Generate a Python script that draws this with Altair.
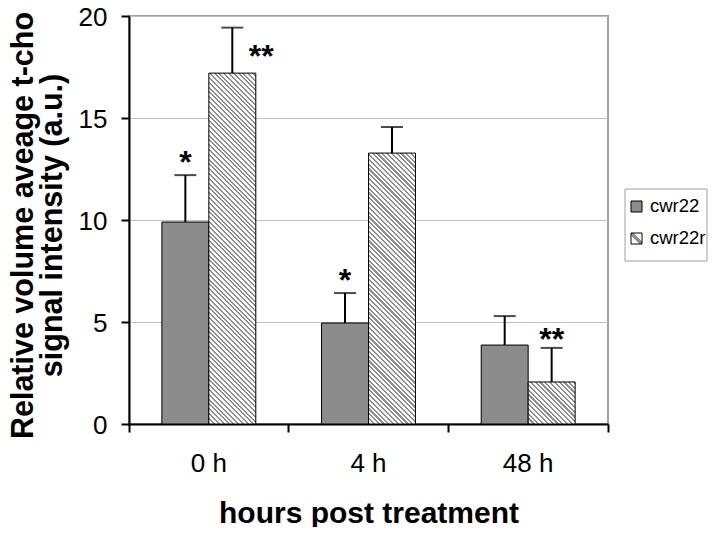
import altair as alt
import pandas as pd

# ---------------- data ----------------
hours = ["0 h", "4 h", "48 h"]
series = ["cwr22", "cwr22r"]
cwr22_vals = [9.9, 4.95, 3.87]
cwr22_err = [2.3, 1.47, 1.42]
cwr22r_vals = [17.2, 13.28, 2.06]
cwr22r_err = [2.23, 1.28, 1.67]

ann_hours = ["0 h", "0 h", "4 h", "48 h"]
ann_series = ["cwr22", "cwr22r", "cwr22", "cwr22r"]
ann_labels = ["*", "**", "*", "**"]
ann_y = [13.2, 18.4, 7.4, 4.5]

y_ticks = [0, 5, 10, 15, 20]
y_title = ["Relative volume aveage t-cho", "signal intensity (a.u.)"]
x_title = "hours post treatment"

# ---------------- layout / style ----------------
FONT = "Liberation Sans"
W, H = 479, 408
YMAX = 20
GRAY = "#8c8c8c"
HATCH = "#909090"
OFF_PAD = 0.7
BAR_W = (W / 3) / (2 + 2 * OFF_PAD)

rows = []
for i, h in enumerate(hours):
    rows.append(dict(hour=h, series="cwr22", value=cwr22_vals[i], top=cwr22_vals[i] + cwr22_err[i]))
    rows.append(dict(hour=h, series="cwr22r", value=cwr22r_vals[i], top=cwr22r_vals[i] + cwr22r_err[i]))
df = pd.DataFrame(rows)

ann = pd.DataFrame(dict(hour=ann_hours, series=ann_series, label=ann_labels, y=ann_y))
leg = pd.DataFrame(dict(series=series))


def hatch_gradient(w_px, h_px, period=4.8, frac=0.45):
    """Diagonal '\\' stripes expressed as a linear gradient in bbox units."""
    n = (w_px + h_px) / period
    s = (w_px + h_px) / (w_px ** 2 + h_px ** 2)
    x2 = s * w_px
    y2 = 1 - s * h_px
    stops = []
    k = 0
    while k < n:
        a = k / n
        b = min((k + frac) / n, 1.0)
        c = min((k + 1) / n, 1.0)
        stops += [
            {"offset": a, "color": HATCH},
            {"offset": b, "color": HATCH},
            {"offset": b, "color": "white"},
            {"offset": c, "color": "white"},
        ]
        k += 1
    return {"gradient": "linear", "x1": 0, "y1": 1, "x2": x2, "y2": y2, "stops": stops}


x_scale = alt.Scale(domain=hours, paddingInner=0, paddingOuter=0)
off_scale = alt.Scale(domain=series, paddingInner=0, paddingOuter=OFF_PAD)
y_scale = alt.Scale(domain=[0, YMAX], nice=False, zero=True)

x_axis = alt.Axis(
    title=x_title, titleFont=FONT, titleFontSize=30, titleFontWeight="bold", titleColor="black",
    titleY=98, titleBaseline="alphabetic",
    labelAngle=0, labelFont=FONT, labelFontSize=26, labelColor="black", labelPadding=18,
    tickSize=8, tickWidth=2, tickColor="black", domainColor="black", domainWidth=2,
    bandPosition=1, tickExtra=True, grid=False,
)
y_axis = alt.Axis(
    values=y_ticks, title=y_title, titleFont=FONT, titleFontSize=30.5, titleFontWeight="bold",
    titleColor="black", titleX=-97, titleY=209, titleBaseline="alphabetic", titleLineHeight=29,
    labelFont=FONT, labelFontSize=26, labelColor="black", labelPadding=14, labelOffset=1.5,
    tickSize=8, tickWidth=2, tickColor="black", domainColor="black", domainWidth=2,
    grid=True, gridColor="#c0c0c0", gridWidth=1,
)


def X():
    return alt.X("hour:N", sort=hours, scale=x_scale, axis=x_axis)


def XO():
    return alt.XOffset("series:N", scale=off_scale)


def Y(field):
    return alt.Y(field, scale=y_scale, axis=y_axis)


base = alt.Chart(df)

gray_bars = base.transform_filter(alt.datum.series == "cwr22").mark_bar(
    fill=GRAY, stroke="black", strokeWidth=1
).encode(x=X(), xOffset=XO(), y=Y("value:Q"))

hatch_layers = []
for i, h in enumerate(hours):
    h_px = cwr22r_vals[i] * H / YMAX
    hatch_layers.append(
        base.transform_filter((alt.datum.series == "cwr22r") & (alt.datum.hour == h)).mark_bar(
            fill=hatch_gradient(BAR_W, h_px), stroke="black", strokeWidth=1
        ).encode(x=X(), xOffset=XO(), y=Y("value:Q"))
    )

err_rule = base.mark_rule(color="black", strokeWidth=2).encode(
    x=X(), xOffset=XO(), y=Y("value:Q"), y2="top:Q"
)
err_cap = base.mark_tick(color="black", thickness=2, size=22).encode(
    x=X(), xOffset=XO(), y=Y("top:Q")
)

ann_base = alt.Chart(ann)
ann_main = ann_base.transform_filter(
    ~((alt.datum.hour == "0 h") & (alt.datum.series == "cwr22r"))
).mark_text(font=FONT, fontSize=32, fontWeight="bold", baseline="alphabetic", dy=18, color="black").encode(
    x=X(), xOffset=XO(), y=Y("y:Q"), text="label:N"
)
ann_side = ann_base.transform_filter(
    (alt.datum.hour == "0 h") & (alt.datum.series == "cwr22r")
).mark_text(font=FONT, fontSize=32, fontWeight="bold", baseline="alphabetic", dy=18, dx=29, color="black").encode(
    x=X(), xOffset=XO(), y=Y("y:Q"), text="label:N"
)

# ---------------- legend (drawn manually for the hatched swatch) ----------------
leg_base = alt.Chart(leg)
leg_box = leg_base.transform_filter(alt.datum.series == "cwr22").mark_rect(
    fill="white", stroke="#a0a0a0", strokeWidth=1
).encode(x=alt.value(496), x2=alt.value(578), y=alt.value(173), y2=alt.value(245))
leg_sym1 = leg_base.transform_filter(alt.datum.series == "cwr22").mark_rect(
    fill=GRAY, stroke="black", strokeWidth=1
).encode(x=alt.value(502), x2=alt.value(513), y=alt.value(185), y2=alt.value(196))
leg_sym2 = leg_base.transform_filter(alt.datum.series == "cwr22r").mark_rect(
    fill={"gradient": "linear", "x1": 0, "y1": 1, "x2": 1, "y2": 0,
          "stops": [{"offset": 0, "color": "white"}, {"offset": 0.4, "color": "white"},
                    {"offset": 0.4, "color": HATCH}, {"offset": 0.6, "color": HATCH},
                    {"offset": 0.6, "color": "white"}, {"offset": 1, "color": "white"}]},
    stroke="black", strokeWidth=1
).encode(x=alt.value(502), x2=alt.value(513), y=alt.value(217), y2=alt.value(228))
leg_txt1 = leg_base.transform_filter(alt.datum.series == "cwr22").mark_text(
    font=FONT, fontSize=18.5, align="left", baseline="alphabetic", color="black"
).encode(x=alt.value(521), y=alt.value(196), text="series:N")
leg_txt2 = leg_base.transform_filter(alt.datum.series == "cwr22r").mark_text(
    font=FONT, fontSize=18.5, align="left", baseline="alphabetic", color="black"
).encode(x=alt.value(521), y=alt.value(228), text="series:N")

chart = alt.layer(
    gray_bars, *hatch_layers, err_rule, err_cap, ann_main, ann_side,
    leg_box, leg_sym1, leg_sym2, leg_txt1, leg_txt2,
).properties(
    width=W, height=H,
    autosize=alt.AutoSizeParams(type="none"),
    padding={"left": 121, "top": 8, "right": 100, "bottom": 103},
).configure_view(stroke="#a0a0a0", strokeWidth=2)

chart.save("out.html", embed_options={"renderer": "svg", "actions": False})
